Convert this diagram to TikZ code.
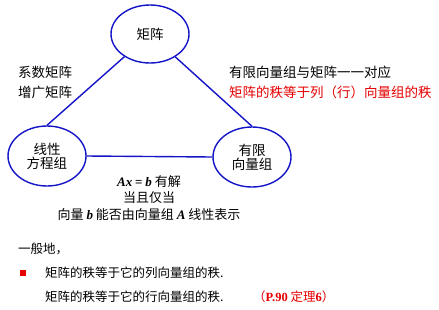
\documentclass[tikz,border=0pt]{standalone}
\usepackage{fontspec}
\usetikzlibrary{shapes.geometric}
\newfontfamily\cjk{Noto Sans CJK SC}
\definecolor{eblue}{RGB}{20,20,200}
\definecolor{tred}{RGB}{230,0,0}
\begin{document}
\begin{tikzpicture}[x=1pt,y=-1pt,
  ell/.style={draw=eblue,line width=1.4pt,ellipse,minimum width=78pt,minimum height=58pt,inner sep=0pt,align=center,font=\cjk\fontsize{13.5}{16}\selectfont},
  conn/.style={draw=eblue,line width=1.4pt},
  lbl/.style={anchor=west,inner sep=0pt,font=\cjk\fontsize{13.5}{16}\selectfont},
  blk/.style={inner sep=0pt,font=\cjk\fontsize{13}{15}\selectfont}]
\useasboundingbox[fill=white] (0,0) rectangle (439,309);
\node[ell] (m) at (150,34) {矩阵};
\node[ell,minimum height=60pt] (l) at (47,156) {线性\\[-2pt]方程组};
\node[ell,minimum height=60pt] (r) at (252,157) {有限\\[-2pt]向量组};
\draw[conn] (m) -- (l.north);
\draw[conn] (m) -- (r.north);
\draw[conn] (l.east) -- (r.west);
\node[lbl] (t1) at (18,72) {系数矩阵};
\node[lbl] (t2) at (18,92) {增广矩阵};
\node[lbl] (t3) at (229,72) {有限向量组与矩阵一一对应};
\node[lbl,text=tred] (t4) at (229,92) {矩阵的秩等于列（行）向量组的秩};
\node[blk] (b1) at (149,182) {{\fontspec{Liberation Serif}\bfseries\itshape Ax} {\fontspec{Liberation Serif}\bfseries =} {\fontspec{Liberation Serif}\bfseries\itshape b} 有解};
\node[blk] (b2) at (149,198) {当且仅当};
\node[blk] (b3) at (149,215) {向量 {\fontspec{Liberation Serif}\bfseries\itshape b} 能否由向量组 {\fontspec{Liberation Serif}\bfseries\itshape A} 线性表示};
\node[lbl,font=\cjk\fontsize{12.5}{15}\selectfont] (g) at (18,249) {一般地，};
\node[fill=tred,minimum size=6pt,inner sep=0pt] (sq) at (23,273) {};
\node[lbl,font=\cjk\fontsize{12.5}{15}\selectfont] (p1) at (45,273) {矩阵的秩等于它的列向量组的秩.};
\node[lbl,font=\cjk\fontsize{12.5}{15}\selectfont] (p2) at (45,297) {矩阵的秩等于它的行向量组的秩.};
\node[lbl,text=tred,font=\cjk\fontsize{12.5}{15}\selectfont] (p3) at (253,297) {（{\fontspec{Liberation Serif}\bfseries P.90} 定理{\fontspec{Liberation Serif}\bfseries 6}）};
\end{tikzpicture}
\end{document}
